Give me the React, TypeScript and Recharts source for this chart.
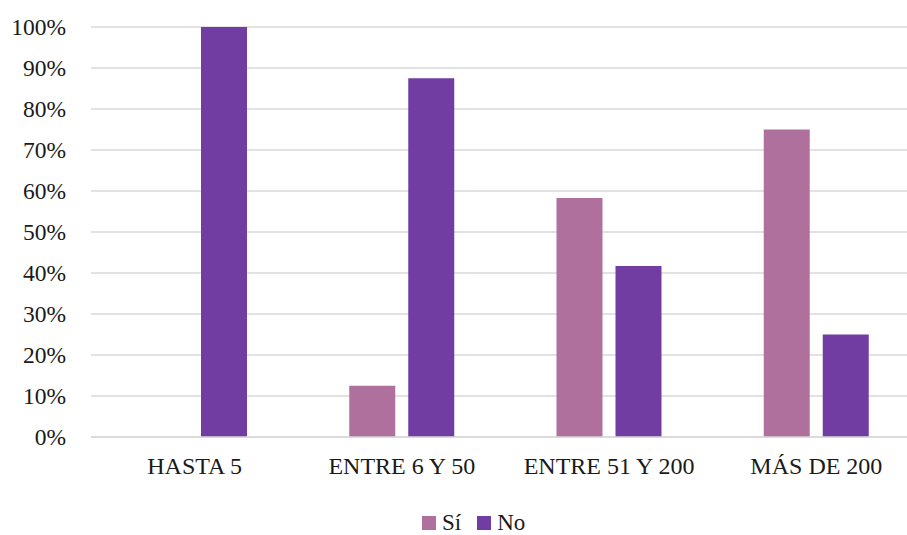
import React from 'react';
import { BarChart, Bar, XAxis, YAxis, CartesianGrid, Legend } from 'recharts';

const categories = ['HASTA 5', 'ENTRE 6 Y 50', 'ENTRE 51 Y 200', 'MÁS DE 200'];
const siValues = [0, 12.5, 58.3, 75];
const noValues = [100, 87.5, 41.7, 25];
const yTicks = [0, 10, 20, 30, 40, 50, 60, 70, 80, 90, 100];

const SI_COLOR = '#b0709e';
const NO_COLOR = '#723da3';
const FONT = "'Liberation Serif', 'DejaVu Serif', serif";

const chartData = categories.map((name, i) => ({
  name,
  si: siValues[i],
  no: noValues[i],
}));

const legendItems = [
  { label: 'Sí', color: SI_COLOR },
  { label: 'No', color: NO_COLOR },
];

const CustomLegend: React.FC = () => (
  <div style={{ display: 'flex', alignItems: 'center', fontFamily: FONT, fontSize: 23, color: '#1a1a1a', lineHeight: '22px' }}>
    {legendItems.map((item) => (
      <div key={item.label} style={{ display: 'flex', alignItems: 'center', marginRight: 16 }}>
        <span style={{ display: 'inline-block', width: 14, height: 14, background: item.color, marginRight: 6 }} />
        <span>{item.label}</span>
      </div>
    ))}
  </div>
);

const App: React.FC = () => {
  return (
    <div style={{ position: 'absolute', left: 0, top: 0, width: 907, height: 535, overflow: 'hidden', background: '#fff' }}>
      <BarChart
        width={930}
        height={545}
        data={chartData}
        margin={{ top: 27, right: 10, left: 0, bottom: 0 }}
        barSize={46}
        barGap={13}
      >
        <CartesianGrid vertical={false} stroke="#d9d9d9" strokeWidth={1.5} />
        <XAxis
          dataKey="name"
          axisLine={{ stroke: '#d9d9d9', strokeWidth: 1.5 }}
          tickLine={false}
          tickSize={0}
          tickMargin={20}
          height={86}
          interval={0}
          tick={{ fill: '#1a1a1a', fontSize: 24, fontFamily: FONT }}
        />
        <YAxis
          width={91}
          domain={[0, 100]}
          ticks={yTicks}
          axisLine={false}
          tickLine={false}
          tickSize={0}
          tickMargin={25}
          tickFormatter={(v: number) => `${v}%`}
          tick={{ fill: '#1a1a1a', fontSize: 23.5, fontFamily: FONT }}
        />
        <Legend
          verticalAlign="bottom"
          content={<CustomLegend />}
          wrapperStyle={{ left: 422, top: 512, width: 'auto' }}
        />
        <Bar dataKey="si" name="Sí" fill={SI_COLOR} isAnimationActive={false} />
        <Bar dataKey="no" name="No" fill={NO_COLOR} isAnimationActive={false} />
      </BarChart>
    </div>
  );
};

export default App;
